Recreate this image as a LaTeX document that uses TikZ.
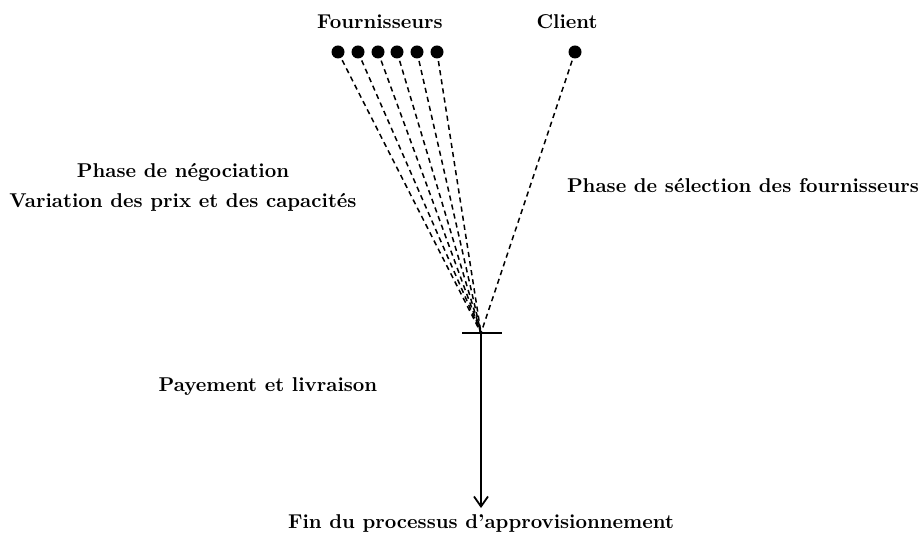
\documentclass[tikz,border=0pt]{standalone}
\usepackage{fontspec}
\usetikzlibrary{arrows.meta}
\begin{document}
\begin{tikzpicture}[x=0.5pt,y=-0.5pt,
  dot/.style={circle,fill=black,inner sep=0pt,minimum size=6.5pt},
  lbl/.style={font=\bfseries},
  offer/.style={line width=0.75pt,dash pattern=on 2.6pt off 2pt}]
  \useasboundingbox (0,0) rectangle (922,539);

  % Labels
  \node[lbl] (four) at (380,22) {Fournisseurs};
  \node[lbl] (cli) at (567,22) {Client};
  \node[lbl,align=center] (nego) at (183,187) {Phase de négociation\\[3pt]Variation des prix et des capacités};
  \node[lbl] (sel) at (743,186) {Phase de sélection des fournisseurs};
  \node[lbl] (pay) at (268,387) {Payement et livraison};
  \node[lbl] (fin) at (481,524) {Fin du processus d'approvisionnement};

  % Dots
  \foreach \i/\x in {1/338,2/358,3/378,4/397,5/417,6/437}
    \node[dot] (f\i) at (\x,52) {};
  \node[dot] (c) at (575,52) {};
  \coordinate (m) at (481,333);

  % Dashed lines
  \foreach \i in {1,...,6}
    \draw[offer] (f\i.center) -- (m);
  \draw[offer] (c.center) -- (m);

  % Bar and arrow
  \coordinate (bl) at (462,333);
  \coordinate (br) at (502,333);
  \draw[line width=0.9pt] (bl) -- (br);
  \draw[line width=0.9pt,-{Straight Barb[length=5pt,width=7pt]}] (m) -- (fin.north);

\end{tikzpicture}
\end{document}
